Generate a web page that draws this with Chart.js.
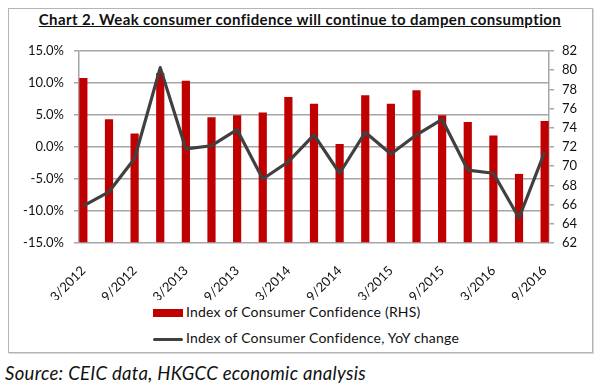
<!DOCTYPE html>
<html>
<head>
<meta charset="utf-8">
<script src="https://cdn.jsdelivr.net/npm/chart.js@4.4.0/dist/chart.umd.min.js"></script>
<style>
  body { margin: 0; width: 600px; height: 392px; background: #fff; position: relative; font-family: Lato, sans-serif; color: #111; }
  #frame { position: absolute; left: 8px; top: 8px; width: 583px; height: 343px; border: 1px solid #b4b4b4; box-shadow: 1px 1px 0 #d8d8d8; }
  #title { position: absolute; left: 0; top: 10px; width: 600px; text-align: center; font-weight: bold; font-size: 15px; letter-spacing: 0.4px; text-decoration: underline; }
  #chart-box { position: absolute; left: 8px; top: 30px; width: 584px; height: 270px; }
  .legend-row { position: absolute; left: 153px; height: 16px; font-size: 14px; letter-spacing: 0.2px; line-height: 16px; white-space: nowrap; }
  .legend-row span.key { display: inline-block; width: 30px; vertical-align: middle; margin-right: 3px; }
  #leg-bar { top: 304px; }
  #leg-bar .key { height: 8px; background: #c00000; }
  #leg-line { top: 330px; }
  #leg-line .key { height: 3px; background: #404040; border-radius: 2px; }
  #source { position: absolute; left: 5px; top: 362px; font-style: italic; font-size: 18.5px; letter-spacing: 0.3px; }
</style>
</head>
<body>
<div id="frame"></div>
<div id="title">Chart 2. Weak consumer confidence will continue to dampen consumption</div>
<div id="chart-box"><canvas id="chart"></canvas></div>
<div class="legend-row" id="leg-bar"><span class="key"></span>Index of Consumer Confidence (RHS)</div>
<div class="legend-row" id="leg-line"><span class="key"></span>Index of Consumer Confidence, YoY change</div>
<div id="source">Source: CEIC data, HKGCC economic analysis</div>
<script>
const quarters = ['3/2012', '6/2012', '9/2012', '12/2012', '3/2013', '6/2013', '9/2013', '12/2013',
  '3/2014', '6/2014', '9/2014', '12/2014', '3/2015', '6/2015', '9/2015', '12/2015',
  '3/2016', '6/2016', '9/2016'];
// index level, right-hand axis
const confidenceIndex = [79.2, 74.9, 73.4, 79.7, 78.9, 75.1, 75.3, 75.6, 77.2, 76.5,
  72.3, 77.4, 76.5, 77.9, 75.3, 74.6, 73.2, 69.2, 74.7];
// year-on-year change, %
const yoyChange = [-9.2, -7.0, -1.8, 12.4, -0.3, 0.2, 2.7, -5.0, -2.3, 1.9,
  -4.1, 2.3, -1.1, 1.9, 4.3, -3.6, -4.1, -11.1, -0.8];

const gridGray = '#a6a6a6';
const tickFont = { family: 'Lato', size: 13 };

new Chart(document.getElementById('chart'), {
  type: 'bar',
  data: {
    labels: quarters,
    datasets: [
      {
        type: 'line',
        label: 'Index of Consumer Confidence, YoY change',
        data: yoyChange,
        yAxisID: 'yPct',
        borderColor: '#404040',
        borderWidth: 3.2,
        borderJoinStyle: 'round',
        pointRadius: 0,
        tension: 0,
        order: 0
      },
      {
        label: 'Index of Consumer Confidence (RHS)',
        data: confidenceIndex,
        yAxisID: 'yIdx',
        backgroundColor: '#c00000',
        barPercentage: 0.32,
        categoryPercentage: 1,
        base: 62,
        order: 1
      }
    ]
  },
  options: {
    responsive: true,
    maintainAspectRatio: false,
    animation: false,
    layout: { padding: { top: 21, left: 0, right: 0, bottom: 0 } },
    plugins: {
      legend: { display: false },
      tooltip: { enabled: false }
    },
    scales: {
      x: {
        offset: false,
        grid: { display: false },
        border: { display: false },
        ticks: {
          autoSkip: false,
          minRotation: 45,
          maxRotation: 45,
          padding: 12,
          color: '#111',
          font: tickFont,
          callback: (v, i) => (i % 2 === 0 ? quarters[i] : '')
        },
        // bars sit flush against the two value axes
        afterBuildTicks: (scale) => {
          scale._startValue = -0.17;
          scale._valueRange = quarters.length - 1 + 0.34;
        },
        afterFit: (scale) => { scale.height = 57; }
      },
      yPct: {
        position: 'left',
        min: -15,
        max: 15,
        grid: { color: gridGray, lineWidth: 1.5, tickLength: 5 },
        border: { color: gridGray, width: 1.5 },
        ticks: {
          stepSize: 5,
          padding: 10,
          color: '#111',
          font: tickFont,
          callback: (v) => v.toFixed(1) + '%'
        },
        afterFit: (scale) => { scale.width = 71; }
      },
      yIdx: {
        position: 'right',
        min: 62,
        max: 82,
        grid: { drawOnChartArea: false, color: gridGray, lineWidth: 1.5, tickLength: 5 },
        border: { color: gridGray, width: 1.5 },
        ticks: { stepSize: 2, padding: 8, color: '#111', font: tickFont },
        afterFit: (scale) => { scale.width = 43; }
      }
    }
  }
});
</script>
</body>
</html>
